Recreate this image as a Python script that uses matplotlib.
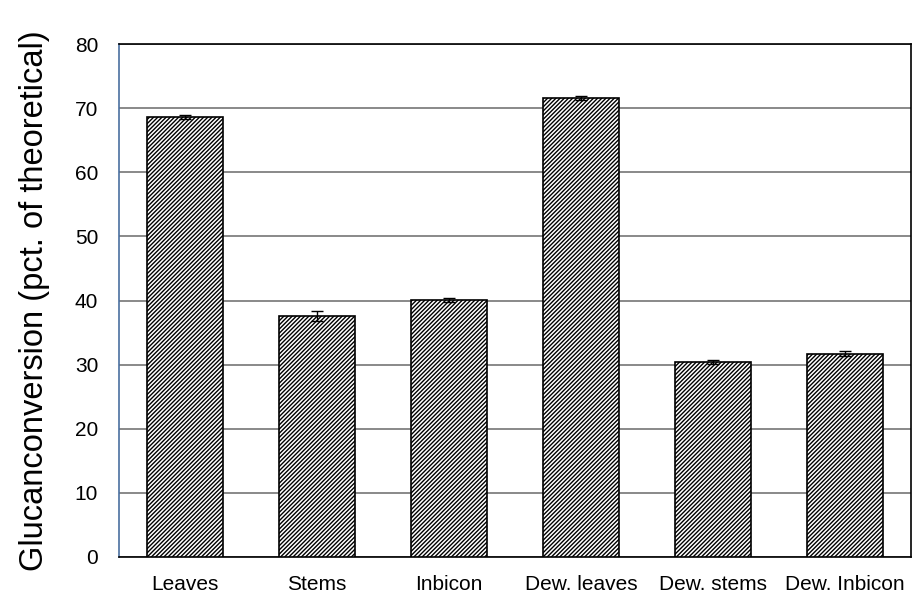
import numpy as np
import matplotlib.pyplot as plt

categories = ['Leaves', 'Stems', 'Inbicon', 'Dew. leaves', 'Dew. stems', 'Dew. Inbicon']
conversion = [68.6, 37.6, 40.1, 71.6, 30.4, 31.7]
errors = [0.3, 0.8, 0.3, 0.3, 0.3, 0.4]

plt.rcParams['font.family'] = ['Liberation Sans', 'DejaVu Sans']
plt.rcParams['hatch.linewidth'] = 1.0

fig = plt.figure(figsize=(9.19, 5.98), dpi=100)
ax = fig.add_axes([119 / 919, 41 / 598, 792 / 919, 513 / 598])

x = np.arange(len(categories))
ax.bar(x, conversion, width=0.58, color='white', edgecolor='black', linewidth=1.2,
       hatch='////////', zorder=3)
ax.errorbar(x, conversion, yerr=errors, fmt='none', ecolor='black', elinewidth=1,
            capsize=4, capthick=1, zorder=4)

ax.set_xlim(-0.5, len(categories) - 0.5)
ax.set_ylim(0, 80)
ax.set_yticks(range(0, 81, 10))
ax.set_xticks(x)
ax.set_xticklabels(categories)
ax.tick_params(axis='both', length=0, labelsize=15)
ax.tick_params(axis='x', pad=13)
ax.tick_params(axis='y', pad=15)
ax.yaxis.grid(True, color='#808080', linewidth=1.3, zorder=0)
ax.set_axisbelow(True)

for side in ['top', 'right', 'bottom']:
    ax.spines[side].set_color('black')
    ax.spines[side].set_linewidth(1.2)
ax.spines['left'].set_color('#4a6fa0')
ax.spines['left'].set_linewidth(1.2)

ax.set_ylabel('Glucanconversion (pct. of theoretical)', fontsize=23.5, labelpad=18)

fig.savefig('out.png', dpi=100)
